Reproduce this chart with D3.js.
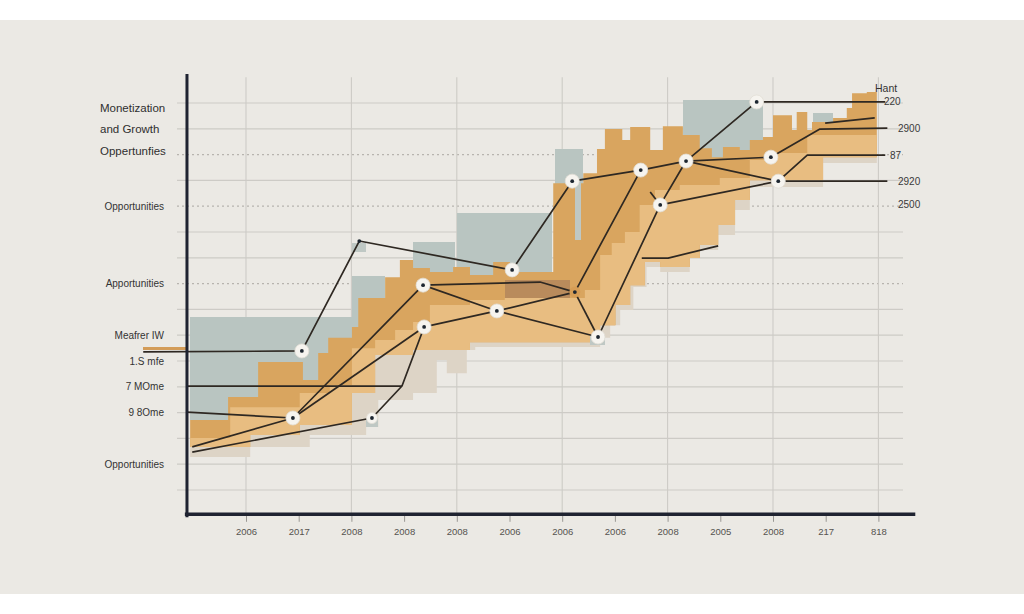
<!DOCTYPE html>
<html><head><meta charset="utf-8">
<script src="https://cdn.jsdelivr.net/npm/d3@7/dist/d3.min.js"></script>
<style>body{margin:0;background:#fff}svg{display:block}</style>
</head><body>
<script>
// ---------- DATA ----------
const xTickVals = [10,20,30,40,50,60,70,80,90,100,110,120,130];
const xTickLabels = ["2006","2017","2008","2008","2008","2006","2006","2006","2008","2005","2008","217","818"];
const xGridVals = [10,30,50,70,90,110,130];
const yGridVals = [10,20,30,40,50,60,70,80,90,100,110,120,130,140,150,160];
const yDottedVals = [90,120,140];

const titleLines = ["Monetization","and Growth","Oppertunfies"];
const leftLabels = [["Opportunities",120],["Apportunities",90],["Meafrer IW",70],["1.S mfe",60],["7 MOme",50],["9 8Ome",40],["Opportunities",20]];
const rightLabels = [["220",160.4],["2900",150.3],["87",139.8],["2920",129.7],["2500",120.5]];
const legendTitle = "Hant";

// stepped layers: [u, value] step-after
const darkTop = [[-0.6,37.1],[6.6,46.0],[12.3,59.6],[20.8,52.6],[23.7,63.1],[25.6,69.0],[30.1,73.2],[31.3,84.4],[36.4,92.5],[39.2,99.1],[41.7,96.0],[44.9,94.5],[49.3,96.4],[52.5,93.3],[56.9,98.4],[60.1,94.5],[68.3,128.9],[74.0,132.8],[76.6,142.2],[78.1,149.9],[81.4,145.7],[82.9,150.7],[86.7,141.8],[89.1,151.0],[92.9,147.6],[96.1,142.5],[98.4,139.0],[100.5,142.9],[103.7,141.8],[105.6,145.7],[108.1,146.8],[110.0,155.3],[113.6,149.5],[114.5,156.5],[116.5,149.5],[117.4,152.6],[121.4,154.2],[124.0,158.1],[125.0,163.8],[127.8,164.3]];
const lightTop = [[-0.6,30.2],[7.0,42.1],[20.2,47.6],[25.9,50.7],[30.1,64.9],[34.5,68.1],[38.3,72.0],[41.7,75.1],[44.9,81.7],[52.5,83.6],[59.1,84.4],[74.3,87.5],[77.2,101.1],[79.4,105.7],[81.9,110.0],[84.7,120.5],[87.6,126.3],[92.3,128.2],[99.9,130.9],[105.6,137.9],[110.0,140.6],[116.5,147.6]];
const lightBot = [[-0.6,26.7],[10.8,31.3],[20.2,35.2],[30.1,47.6],[34.5,62.3],[41.7,64.3],[52.5,67.3],[77.2,73.9],[80.1,81.7],[82.9,89.4],[85.7,98.4],[88.6,96.4],[94.2,99.9],[96.1,105.0],[99.6,112.7],[102.8,122.4],[105.6,130.1],[119.5,139.0]];
const beigeBot = [[-0.6,22.8],[10.8,26.7],[22.1,31.3],[32.8,34.4],[35.1,44.9],[41.7,47.6],[46.2,60.4],[48.1,55.3],[51.9,64.3],[53.5,65.4],[77.2,69.0],[79.1,73.9],[81.0,79.8],[83.5,88.7],[86.0,96.4],[88.6,94.5],[94.2,99.9],[96.1,103.0],[99.6,108.8],[102.8,118.5],[105.6,127.4],[119.5,136.7]];
const layerEnd = 129.7;

// blocks: [u0, u1, top, bottom]
const grayBlocks = [[-0.6,30.1,77.1,37.1],[30.1,36.4,92.9,72.0],[41.7,49.7,106.1,94.5],[50.1,68.1,117.3,93.3],[68.6,74.0,142.2,126.3],[81.0,82.9,145.7,141.8],[92.9,108.1,161.2,137.9],[117.6,121.4,156.1,149.5]];
const grayFront = [[72.4,73.6,128.9,106.9],[30.1,32.8,105.7,102.2],[32.8,35.1,37.9,34.4],[75.3,78.1,70.1,66.2]];
const brownBlocks = [[59.1,71.5,91.4,84.4]];
const accentBlocks = [[-9.5,-1.2,65.4,64.1]];

// lines
const lines = [
  [[-9.5,63.5],[20.6,63.9],[31.5,106.5],[60.5,95.3],[71.9,129.7],[84.9,134.0],[93.5,137.5],[109.6,139.0],[118.9,149.9],[131.7,150.3]],
  [[-1.2,50.3],[39.6,50.3]],
  [[-1.2,40.2],[18.9,37.9]],
  [[-0.2,26.7],[18.9,37.9],[43.6,89.4],[65.8,90.6],[72.4,86.7],[84.9,134.0]],
  [[-0.2,24.7],[33.9,37.9],[39.6,50.3],[43.8,73.2],[57.6,79.4],[72.4,86.7]],
  [[18.9,37.9],[43.8,73.2]],
  [[43.6,89.4],[57.6,79.4],[76.8,69.3],[88.6,120.5],[111.0,129.7],[131.7,129.7]],
  [[72.4,86.7],[76.8,69.3]],
  [[88.6,120.5],[93.5,137.5],[106.9,160.4],[131.3,160.4]],
  [[93.5,137.5],[111.0,129.7]],
  [[111.0,129.7],[116.5,139.8],[131.3,139.8]],
  [[119.9,152.2],[129.3,154.2]],
  [[86.7,125.5],[88.6,120.5]],
  [[85.1,99.9],[90.1,99.9],[99.6,104.6]]
];
// markers: [u, v, kind]
const markers = [[20.6,63.9,"ring"],[18.9,37.9,"ring"],[33.9,37.9,"small"],[31.5,106.5,"dot"],[43.6,89.4,"ring"],[43.8,73.2,"ring"],[57.6,79.4,"ring"],[60.5,95.3,"ring"],[72.4,86.7,"orange"],[76.8,69.3,"ring"],[71.9,129.7,"ring"],[84.9,134.0,"ring"],[88.6,120.5,"ring"],[93.5,137.5,"ring"],[106.9,160.4,"ring"],[109.6,139.0,"ring"],[111.0,129.7,"ring"]];

// ---------- DRAW ----------
const W = 1024, H = 614;
const svg = d3.select("body").append("svg").attr("width", W).attr("height", H);
const x = d3.scaleLinear().domain([0,130]).range([193.3, 878.4]);
const y = d3.scaleLinear().domain([0,170]).range([515.8, 77.2]);
const font = "'Liberation Sans', Arial, sans-serif";

svg.append("rect").attr("width", W).attr("height", H).attr("fill", "#ffffff");
svg.append("rect").attr("x",0).attr("y",20).attr("width",W).attr("height",574).attr("fill","#ebe9e4");

// grid
const grid = svg.append("g");
grid.selectAll("line.h").data(yGridVals).join("line")
  .attr("x1", 177).attr("x2", 903).attr("y1", d=>y(d)).attr("y2", d=>y(d))
  .attr("stroke", d=> yDottedVals.includes(d) ? "#b7b4ae" : "#cdcbc6")
  .attr("stroke-width", 1.2)
  .attr("stroke-dasharray", d=> yDottedVals.includes(d) ? "2,3" : null);
grid.selectAll("line.v").data(xGridVals).join("line")
  .attr("x1", d=>x(d)).attr("x2", d=>x(d)).attr("y1", y(170)).attr("y2", y(0))
  .attr("stroke", "#cdcbc6").attr("stroke-width", 1.1);

function stepVal(steps, u){ let v = steps[0][1]; for (const s of steps){ if (s[0] <= u + 1e-9) v = s[1]; else break; } return v; }
function stepLayer(top, bot, uEnd){
  const us = Array.from(new Set([...top.map(d=>d[0]), ...bot.map(d=>d[0]), uEnd])).sort((a,b)=>a-b).filter(u=>u<=uEnd);
  return us.map(u=>({u, t: stepVal(top,u), b: stepVal(bot,u)}));
}
const area = d3.area().x(d=>x(d.u)).y0(d=>y(d.b)).y1(d=>y(d.t)).curve(d3.curveStepAfter);
function blocks(data, fill){
  svg.append("g").selectAll("rect").data(data).join("rect")
    .attr("x", d=>x(d[0])).attr("width", d=>x(d[1])-x(d[0]))
    .attr("y", d=>y(d[2])).attr("height", d=>y(d[3])-y(d[2]))
    .attr("fill", fill).attr("shape-rendering","crispEdges");
}

svg.append("path").attr("d", area(stepLayer(lightTop, beigeBot, layerEnd))).attr("fill", "#ddd4c6");
blocks(grayBlocks, "#b9c5c1");
svg.append("path").attr("d", area(stepLayer(darkTop, lightBot, layerEnd))).attr("fill", "#d9a55f");
svg.append("path").attr("d", area(stepLayer(lightTop, lightBot, layerEnd))).attr("fill", "#e8bd81");
blocks(brownBlocks, "#b98b5c");
blocks(grayFront, "#bfc8c4");
blocks(accentBlocks, "#d39c58");

// lines
const lineGen = d3.line().x(d=>x(d[0])).y(d=>y(d[1]));
svg.append("g").selectAll("path").data(lines).join("path")
  .attr("d", lineGen).attr("fill","none").attr("stroke","#2e2822").attr("stroke-width",1.7)
  .attr("stroke-linejoin","round");

// markers
const mg = svg.append("g");
markers.forEach(m=>{
  const cx = x(m[0]), cy = y(m[1]);
  if (m[2]==="ring" || m[2]==="small"){
    mg.append("circle").attr("cx",cx).attr("cy",cy).attr("r", m[2]==="ring"?7:5.5)
      .attr("fill","#f6f4ef").attr("stroke","#e2ded6").attr("stroke-width",0.8);
  } else if (m[2]==="orange"){
    mg.append("circle").attr("cx",cx).attr("cy",cy).attr("r",5.5).attr("fill","#d69d55");
  }
  mg.append("circle").attr("cx",cx).attr("cy",cy).attr("r",1.9).attr("fill","#1d2630");
});

// axes
svg.append("line").attr("x1", x(-1.2)).attr("x2", x(-1.2)).attr("y1", 74).attr("y2", y(0)+1.5)
  .attr("stroke","#1f2331").attr("stroke-width",3);
const xAxis = d3.axisBottom(x).tickValues(xTickVals).tickFormat((d,i)=>xTickLabels[i]).tickSize(6).tickPadding(6);
const gx = svg.append("g").attr("transform", `translate(0,${y(0)})`).call(xAxis);
gx.select(".domain").remove();
gx.selectAll(".tick line").attr("stroke","#9a9894").attr("stroke-width",1);
gx.selectAll(".tick text").attr("font-family", font).attr("font-size", 9.5).attr("fill","#55534f");
svg.append("line").attr("x1", x(-1.6)).attr("x2", x(137)).attr("y1", y(0)-1.5).attr("y2", y(0)-1.5)
  .attr("stroke","#1f2331").attr("stroke-width",3.5);

// left labels
svg.append("g").selectAll("text").data(titleLines).join("text")
  .attr("x", 100).attr("y", (d,i)=>[108,129,151][i]).attr("dy","0.35em")
  .attr("font-family", font).attr("font-size", 11.5).attr("fill","#2f2f2f").text(d=>d);
svg.append("g").selectAll("text").data(leftLabels).join("text")
  .attr("x", 164).attr("y", d=>y(d[1])).attr("dy","0.35em").attr("text-anchor","end")
  .attr("font-family", font).attr("font-size", 10).attr("fill","#333").text(d=>d[0]);

// right labels
svg.append("text").attr("x", 875).attr("y", 88).attr("dy","0.35em")
  .attr("font-family", font).attr("font-size", 10.5).attr("fill","#333").text(legendTitle);
const rightX = [884, 898, 890, 898, 898];
svg.append("g").selectAll("text").data(rightLabels).join("text")
  .attr("x", (d,i)=>rightX[i]).attr("y", d=>y(d[1])).attr("dy","0.35em")
  .attr("font-family", font).attr("font-size", 10).attr("fill","#3a3a3a").text(d=>d[0]);
</script>
</body></html>
